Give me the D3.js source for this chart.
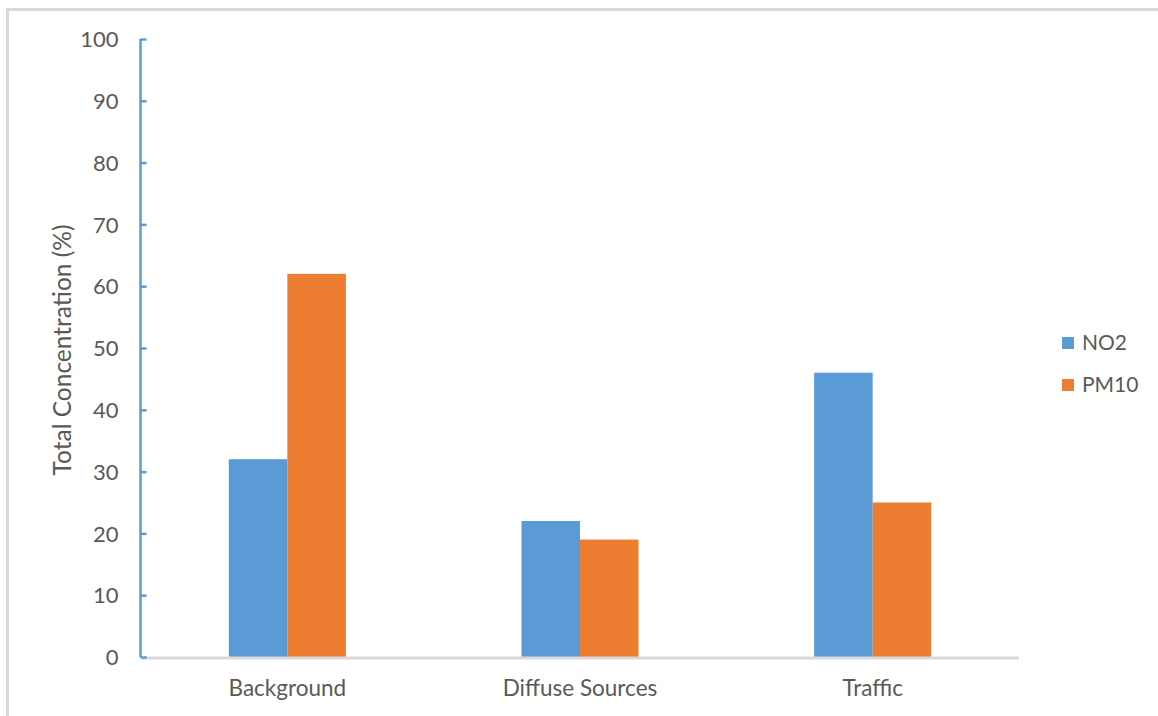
<!DOCTYPE html>
<html>
<head>
<meta charset="utf-8">
<script src="https://cdn.jsdelivr.net/npm/d3@7"></script>
<style>
  html, body { margin: 0; padding: 0; background: #fff; }
  svg { display: block; }
  text { font-family: Lato, "Open Sans", sans-serif; fill: #595959; }
</style>
</head>
<body>
<svg id="chart" width="1158" height="716"></svg>
<script>
// Share of total concentration by source
const categories = ["Background", "Diffuse Sources", "Traffic"];
const seriesNames = ["NO2", "PM10"];
const no2Values = [32, 22, 46];
const pm10Values = [62, 19, 25];
const yTicks = [0, 10, 20, 30, 40, 50, 60, 70, 80, 90, 100];
const colors = ["#5b9bd5", "#ed7d31"];

const svg = d3.select("#chart");
const W = 1158, H = 716;
const plot = { left: 141, right: 1019, top: 39, bottom: 657 };

// outer frame (runs off the right and bottom edges)
svg.append("rect")
  .attr("x", 7.5).attr("y", 9.5)
  .attr("width", W + 10).attr("height", H + 10)
  .attr("fill", "none").attr("stroke", "#d9d9d9").attr("stroke-width", 3);

const x0 = d3.scaleBand()
  .domain(categories)
  .range([plot.left, plot.right])
  .paddingInner(0.6).paddingOuter(0.3);

const x1 = d3.scaleBand()
  .domain(seriesNames)
  .range([0, x0.bandwidth()]);

const y = d3.scaleLinear().domain([0, 100]).range([plot.bottom, plot.top]);

const rows = categories.map((c, i) => ({ cat: c, vals: [no2Values[i], pm10Values[i]] }));

// bars
const groups = svg.append("g").selectAll("g").data(rows).join("g")
  .attr("transform", d => `translate(${x0(d.cat)},0)`);
groups.selectAll("rect")
  .data(d => d.vals.map((v, j) => ({ name: seriesNames[j], v, j })))
  .join("rect")
  .attr("x", d => x1(d.name))
  .attr("width", x1.bandwidth())
  .attr("y", d => y(d.v))
  .attr("height", d => y(0) - y(d.v))
  .attr("fill", d => colors[d.j]);

// x axis baseline
const xAxis = svg.append("g").attr("transform", `translate(0,${plot.bottom + 1})`)
  .call(d3.axisBottom(x0).tickSize(0).tickPadding(0));
xAxis.select(".domain").attr("stroke", "#d9d9d9").attr("stroke-width", 3)
  .attr("d", `M${plot.left},0H${plot.right}`);
xAxis.selectAll("text")
  .attr("y", 38).attr("dy", 0)
  .style("font-size", "22.5px").attr("fill", "#595959");

// y axis with ticks pointing into the plot
const yAxis = svg.append("g").attr("transform", `translate(${plot.left - 0.5},0)`)
  .call(d3.axisRight(y).tickValues(yTicks).tickSize(6).tickFormat(d3.format("d")));
yAxis.select(".domain").attr("stroke", "#5b9bd5").attr("stroke-width", 2.5)
  .attr("d", `M0,${plot.top}V${plot.bottom}`);
yAxis.selectAll(".tick line").attr("stroke", "#5b9bd5").attr("stroke-width", 2.5);
yAxis.selectAll(".tick text")
  .attr("x", -22).attr("text-anchor", "end").attr("dy", "0.35em")
  .style("font-size", "22px").attr("fill", "#595959");

// y axis title
svg.append("text")
  .attr("transform", `translate(71,${(plot.top + plot.bottom) / 2 + 2}) rotate(-90)`)
  .attr("text-anchor", "middle")
  .style("font-size", "24.5px")
  .text("Total Concentration (%)");

// legend
const legend = svg.append("g").selectAll("g").data(seriesNames).join("g")
  .attr("transform", (d, i) => `translate(1062,${337 + i * 42})`);
legend.append("rect").attr("width", 12).attr("height", 12)
  .attr("fill", (d, i) => colors[i]);
legend.append("text").attr("x", 20).attr("y", 13)
  .style("font-size", "21px").text(d => d);
</script>
</body>
</html>
